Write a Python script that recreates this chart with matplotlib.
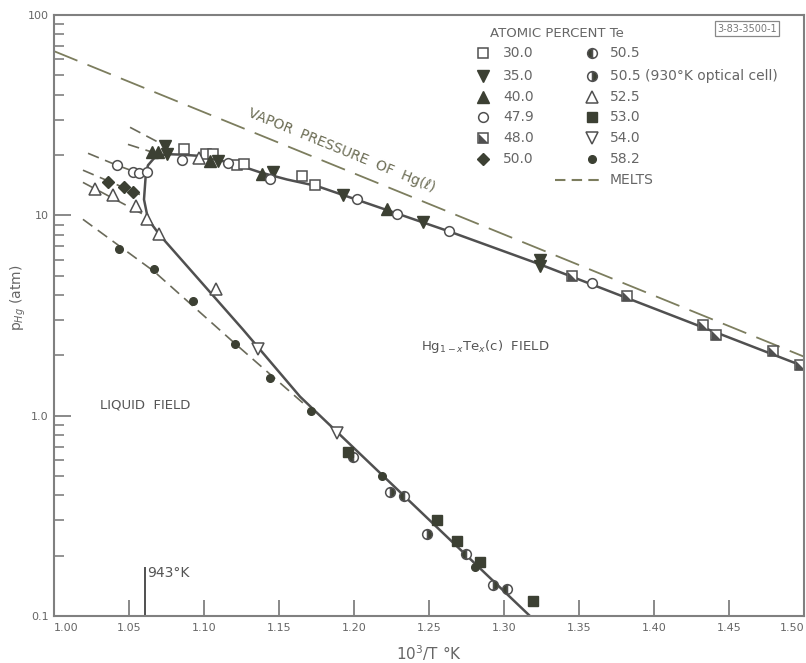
import numpy as np
import matplotlib.pyplot as plt
from matplotlib.ticker import FixedLocator, FixedFormatter, NullFormatter

# vapor pressure of liquid Hg
vapor_x = [1.00, 1.50]
vapor_p = [66.0, 1.97]

# three-phase line, Hg-rich side (right -> knee)
upper_x = [1.500, 1.324, 1.2633, 1.1753, 1.1553, 1.1373, 1.124, 1.1107, 1.0973, 1.084, 1.0753, 1.0673, 1.0627, 1.0613]
upper_p = [1.76, 5.69, 8.32, 14.0, 15.1, 16.4, 17.7, 18.8, 19.8, 20.1, 20.2, 19.5, 17.8, 16.4]
# three-phase line, Te-rich side (knee -> bottom)
lower_x = [1.0613, 1.0600, 1.0627, 1.0707, 1.126, 1.164, 1.3173]
lower_p = [16.4, 12.0, 9.55, 7.94, 2.69, 1.245, 0.1]

# melts (dashed, liquid isoconcentrates)
melt_35_x = [1.0507, 1.0747]
melt_35_p = [27.5, 22.1]
melt_40_x = [1.0493, 1.0653]
melt_40_p = [22.6, 20.7]
melt_479_x = [1.0227, 1.0418, 1.0529, 1.0613]
melt_479_p = [20.4, 17.8, 16.6, 16.4]
melt_50_x = [1.0193, 1.0573]
melt_50_p = [16.8, 12.7]
melt_525_x = [1.0193, 1.062]
melt_525_p = [14.6, 9.89]
melt_582_x = [1.0193, 1.0667, 1.1207, 1.1693]
melt_582_p = [9.55, 5.25, 2.29, 1.10]

# measured points, by atomic percent Te
x_300 = [1.0867, 1.1013, 1.1058, 1.1222, 1.1267, 1.1651, 1.174]
p_300 = [21.5, 20.2, 20.2, 17.8, 18.0, 15.8, 14.2]
x_350 = [1.0740, 1.0751, 1.1095, 1.1462, 1.1929, 1.2462, 1.324, 1.324]
p_350 = [22.2, 20.2, 18.7, 16.5, 12.7, 9.26, 6.0, 5.6]
x_400 = [1.0651, 1.0695, 1.104, 1.1389, 1.2218]
p_400 = [20.6, 20.6, 18.7, 16.0, 10.7]
x_479 = [1.0418, 1.0529, 1.0569, 1.0618, 1.0851, 1.1162, 1.144, 1.2018, 1.2289, 1.2635, 1.3585]
p_479 = [17.8, 16.5, 16.2, 16.5, 18.9, 18.3, 15.1, 12.1, 10.1, 8.35, 4.61]
x_480 = [1.3451, 1.3822, 1.4325, 1.4413, 1.4795, 1.4973]
p_480 = [4.97, 3.95, 2.82, 2.54, 2.10, 1.78]
x_500 = [1.0362, 1.0467, 1.0529]
p_500 = [14.7, 13.8, 13.1]
x_505 = [1.1995, 1.2333, 1.2745, 1.3022]
p_505 = [0.62, 0.395, 0.204, 0.136]
x_505opt = [1.224, 1.2485, 1.2925]
p_505opt = [0.4135, 0.257, 0.143]
x_525 = [1.0273, 1.0391, 1.0547, 1.0618, 1.0702, 1.108, 1.0967]
p_525 = [13.5, 12.7, 11.1, 9.63, 8.10, 4.30, 19.3]
x_530 = [1.1962, 1.2555, 1.2689, 1.284, 1.3195]
p_530 = [0.655, 0.30, 0.238, 0.187, 0.119]
x_540 = [1.136, 1.1885]
p_540 = [2.14, 0.82]
x_582 = [1.0435, 1.0669, 1.0925, 1.1207, 1.144, 1.1713, 1.2185, 1.2807]
p_582 = [6.82, 5.37, 3.73, 2.29, 1.55, 1.05, 0.497, 0.176]

x_ticks = [1.00, 1.05, 1.10, 1.15, 1.20, 1.25, 1.30, 1.35, 1.40, 1.45, 1.50]
x_ticklabels = ["1.00", "1.05", "1.10", "1.15", "1.20", "1.25", "1.30", "1.35", "1.40", "1.45", "1.50"]
y_ticks = [0.1, 1.0, 10.0, 100.0]
y_ticklabels = ["0.1", "1.0", "10", "100"]

ink = "#505050"
dark = "#3c4033"
olive = "#7c7d5e"
txt = "#666666"
axcol = "#808080"

half_tri = [(-1, -1), (1, -1), (-1, 1)]

styles = [
    ("30.0", dict(marker="s", ms=7, mfc="white", mec=ink, mew=1.1)),
    ("35.0", dict(marker="v", ms=8.5, mfc=dark, mec=dark)),
    ("40.0", dict(marker="^", ms=8.5, mfc=dark, mec=dark)),
    ("47.9", dict(marker="o", ms=7, mfc="white", mec=ink, mew=1.1)),
    ("48.0", dict(marker="s", ms=7, mfc="white", mec=ink, mew=1.1)),
    ("50.0", dict(marker="D", ms=6.5, mfc=dark, mec=dark)),
    ("50.5", dict(marker="o", ms=7, mfc=dark, mfcalt="white", fillstyle="left", mec=ink, mew=1.1)),
    ("50.5 (930\u00b0K optical cell)", dict(marker="o", ms=7, mfc=dark, mfcalt="white", fillstyle="right", mec=ink, mew=1.1)),
    ("52.5", dict(marker="^", ms=8, mfc="white", mec=ink, mew=1.1)),
    ("53.0", dict(marker="s", ms=7, mfc=dark, mec=dark)),
    ("54.0", dict(marker="v", ms=8, mfc="white", mec=ink, mew=1.1)),
    ("58.2", dict(marker="o", ms=5.5, mfc=dark, mec=dark)),
]
series = [(x_300, p_300), (x_350, p_350), (x_400, p_400), (x_479, p_479), (x_480, p_480),
          (x_500, p_500), (x_505, p_505), (x_505opt, p_505opt), (x_525, p_525),
          (x_530, p_530), (x_540, p_540), (x_582, p_582)]

fig = plt.figure(figsize=(8.06, 6.63), dpi=100)
ax = fig.add_axes([54 / 806, 47 / 663, 750 / 806, 601 / 663])
ax.set_yscale("log")
ax.set_xlim(1.0, 1.5)
ax.set_ylim(0.1, 100)

ax.plot(vapor_x, vapor_p, color=olive, lw=1.3, dashes=(14, 6))
ax.plot(upper_x, upper_p, color=ink, lw=1.8, solid_capstyle="butt")
ax.plot(lower_x, lower_p, color=ink, lw=1.8)
for mx, mp in [(melt_35_x, melt_35_p), (melt_40_x, melt_40_p), (melt_479_x, melt_479_p),
               (melt_50_x, melt_50_p), (melt_525_x, melt_525_p), (melt_582_x, melt_582_p)]:
    ax.plot(mx, mp, color="#6a6a5a", lw=1.2, dashes=(7, 4))

# 943 K marker
t943 = 1000 / 943
ax.plot([t943, t943], [0.1, 0.174], color=ink, lw=1.4)
ax.text(t943 + 0.0015, 0.164, "943\u00b0K", fontsize=10, color="#555555", ha="left", va="center")

for (lab, st), (sx, sp) in zip(styles, series):
    ax.plot(sx, sp, ls="none", **st)
    if lab == "48.0":
        ax.plot(sx, sp, ls="none", marker=half_tri, ms=7, mfc=ink, mew=0)

# legend, drawn by hand
leg_rows = [0.9368, 0.8985, 0.8636, 0.8303, 0.7953, 0.7604]
ax.text(0.5813, 0.9684, "ATOMIC PERCENT Te", transform=ax.transAxes, fontsize=9.5,
        color=txt, ha="left", va="center")
for i, (lab, st) in enumerate(styles):
    col, row = divmod(i, 6)
    mx = 0.572 if col == 0 else 0.7173
    lx = 0.5987 if col == 0 else 0.7413
    ax.plot([mx], [leg_rows[row]], transform=ax.transAxes, ls="none", clip_on=False, **st)
    if lab == "48.0":
        ax.plot([mx], [leg_rows[row]], transform=ax.transAxes, ls="none",
                marker=half_tri, ms=7, mfc=ink, mew=0)
    ax.text(lx, leg_rows[row], lab, transform=ax.transAxes, fontsize=10, color=txt,
            ha="left", va="center")
ax.plot([0.668, 0.731], [0.7255, 0.7255], transform=ax.transAxes, color=olive, lw=1.5, dashes=(5, 3))
ax.text(0.7413, 0.7255, "MELTS", transform=ax.transAxes, fontsize=10, color=txt,
        ha="left", va="center")

ax.text(0.924, 0.977, "3-83-3500-1", transform=ax.transAxes, fontsize=7, color="#777777",
        ha="center", va="center",
        bbox=dict(boxstyle="square,pad=0.25", fc="white", ec="#888888", lw=0.9))

# field labels
ax.text(1.2873, 2.21, "Hg$_{1-x}$Te$_x$(c)  FIELD", fontsize=9.5, color="#555555",
        ha="center", va="center")
ax.text(1.0607, 1.135, "LIQUID  FIELD", fontsize=9.5, color="#555555", ha="center", va="center")

# rotated vapor pressure label
p0 = ax.transData.transform((vapor_x[0], vapor_p[0]))
p1 = ax.transData.transform((vapor_x[1], vapor_p[1]))
ang = np.degrees(np.arctan2(p1[1] - p0[1], p1[0] - p0[0]))
ax.text(1.192, 21.0, "VAPOR  PRESSURE  OF  Hg(\u2113)", fontsize=10, color="#6c6d55",
        rotation=ang, rotation_mode="anchor", ha="center", va="center")

# axes styling
for s in ax.spines.values():
    s.set_color(axcol)
    s.set_linewidth(1.5)
ax.xaxis.set_major_locator(FixedLocator(x_ticks))
ax.xaxis.set_major_formatter(FixedFormatter(x_ticklabels))
ax.yaxis.set_major_locator(FixedLocator(y_ticks))
ax.yaxis.set_major_formatter(FixedFormatter(y_ticklabels))
ax.yaxis.set_minor_formatter(NullFormatter())
ax.tick_params(axis="x", which="major", direction="in", length=11.5, width=1.3,
               color=axcol, labelcolor=txt, labelsize=8, pad=5)
ax.tick_params(axis="y", which="major", direction="in", length=12.5, width=1.3,
               color=axcol, labelcolor=txt, labelsize=8, pad=4)
ax.tick_params(axis="y", which="minor", direction="in", length=7, width=1.2, color=axcol)
ax.tick_params(axis="x", which="minor", bottom=False)
xlabels = ax.get_xticklabels()
xlabels[0].set_horizontalalignment("left")
xlabels[-1].set_horizontalalignment("right")

ax.text(0.5, -0.062, "10$^3$/T \u00b0K", transform=ax.transAxes, fontsize=11, color="#666666",
        ha="center", va="center")
ax.text(-0.047, 0.53, "p$_{Hg}$ (atm)", transform=ax.transAxes, fontsize=10, color="#666666",
        ha="center", va="center", rotation=90)

fig.savefig("out.png", dpi=100)
